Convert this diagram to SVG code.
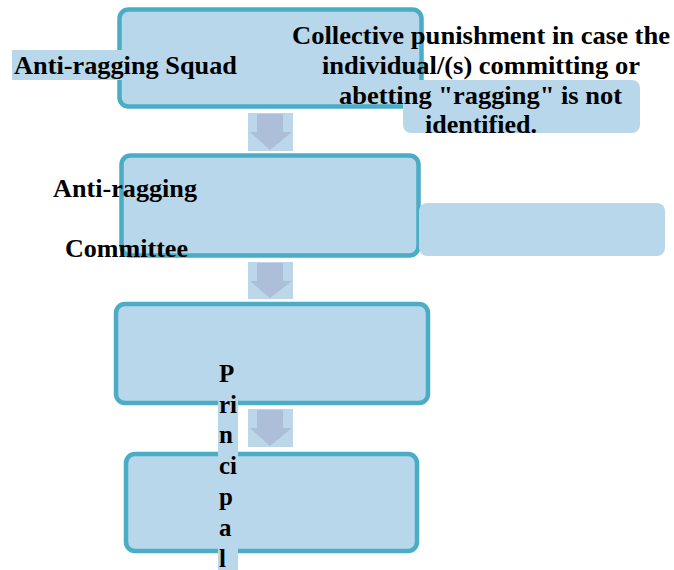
<svg xmlns="http://www.w3.org/2000/svg" width="674" height="570" viewBox="0 0 674 570">
  <style>
    .box { fill: #b9d7ea; stroke: #4bacc6; stroke-width: 4.5; }
    .panel { fill: #b9d7ea; }
    .hl { fill: #b9d7ea; }
    .arrbg { fill: #bcd6ea; }
    .arr { fill: #adbed9; }
    .lbl { font-family: "Liberation Serif", "Times New Roman", serif; font-weight: bold; font-size: 26px; fill: #000; }
    .vert { font-size: 25px; }
  </style>
  <rect width="674" height="570" fill="#ffffff"/>

  <!-- flow steps -->
  <g id="squad">
    <rect class="box" x="119.5" y="9.5" width="302" height="97" rx="9"/>
  </g>
  <g id="squad-note">
    <rect class="panel" x="403" y="80" width="237" height="53" rx="8"/>
  </g>
  <g id="committee">
    <rect class="box" x="121.5" y="155.5" width="297" height="100" rx="9"/>
  </g>
  <g id="committee-note">
    <rect class="panel" x="419" y="203" width="246" height="53" rx="8"/>
  </g>
  <g id="step3">
    <rect class="box" x="116" y="304" width="312" height="99" rx="9"/>
  </g>
  <g id="principal">
    <rect class="box" x="126" y="454" width="291" height="97" rx="9"/>
  </g>

  <!-- connectors -->
  <g id="connectors">
    <rect class="arrbg" x="248" y="113" width="45" height="38"/>
    <polygon class="arr" points="257,114 283,114 283,132 292,132 270,150 250,132 257,132"/>
    <rect class="arrbg" x="248" y="262" width="45" height="37"/>
    <polygon class="arr" points="257,263 283,263 283,281 292,281 270,298 250,281 257,281"/>
    <rect class="arrbg" x="248" y="409" width="45" height="38"/>
    <polygon class="arr" points="257,410 283,410 283,428 292,428 270,446 250,428 257,428"/>
  </g>

  <!-- labels -->
  <g id="labels">
    <rect class="hl" x="12" y="50" width="228" height="30"/>
    <text class="lbl" x="14" y="74" textLength="223" lengthAdjust="spacingAndGlyphs">Anti-ragging Squad</text>

    <text class="lbl" x="292" y="44" textLength="378" lengthAdjust="spacingAndGlyphs">Collective punishment in case the</text>
    <text class="lbl" x="322" y="74" textLength="318" lengthAdjust="spacingAndGlyphs">individual/(s) committing or</text>
    <text class="lbl" x="339" y="104" textLength="283" lengthAdjust="spacingAndGlyphs">abetting "ragging" is not</text>
    <text class="lbl" x="425" y="133" textLength="112" lengthAdjust="spacingAndGlyphs">identified.</text>

    <text class="lbl" x="53" y="197" textLength="144" lengthAdjust="spacingAndGlyphs">Anti-ragging</text>
    <text class="lbl" x="65" y="257" textLength="123" lengthAdjust="spacingAndGlyphs">Committee</text>

    <rect class="hl" x="218" y="361" width="20" height="209"/>
    <text class="lbl vert" x="219" y="382">P</text>
    <text class="lbl vert" x="219" y="413">ri</text>
    <text class="lbl vert" x="219" y="443">n</text>
    <text class="lbl vert" x="219" y="474">ci</text>
    <text class="lbl vert" x="219" y="505">p</text>
    <text class="lbl vert" x="219" y="536">a</text>
    <text class="lbl vert" x="219" y="567">l</text>
  </g>
</svg>
